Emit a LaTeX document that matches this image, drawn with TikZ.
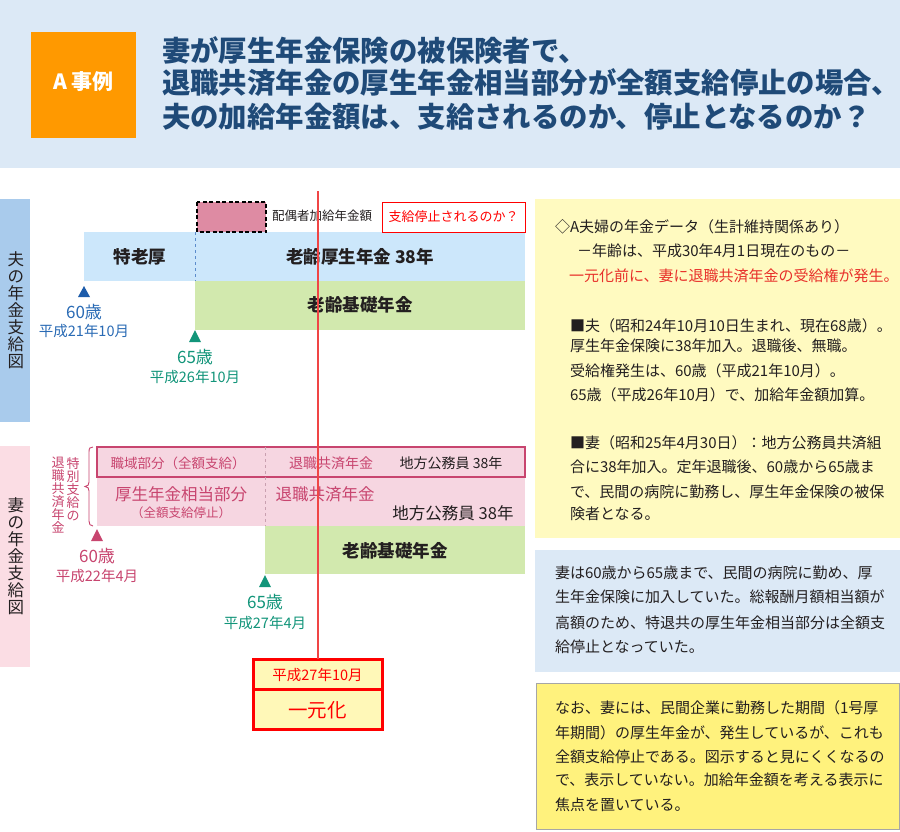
\documentclass[tikz,border=0pt]{standalone}
\usepackage{fontspec}
\setmainfont{Noto Sans CJK JP}
\newcommand\tightls{\lineskiplimit=-20pt\relax}
\definecolor{hdrbg}{HTML}{DCE9F6}
\definecolor{orangec}{HTML}{FF9900}
\definecolor{navy}{HTML}{1F4A78}
\definecolor{barblue}{HTML}{A9CBEC}
\definecolor{barpink}{HTML}{FBDDE4}
\definecolor{kakyu}{HTML}{DE8BA3}
\definecolor{bandblue}{HTML}{CCE7FB}
\definecolor{bandgreen}{HTML}{D2E9AE}
\definecolor{bandpink}{HTML}{F6D6E1}
\definecolor{pinkt}{HTML}{C8456F}
\definecolor{bluet}{HTML}{2A6BB5}
\definecolor{bluetri}{HTML}{1D5CAA}
\definecolor{greent}{HTML}{12957A}
\definecolor{redl}{HTML}{F04545}
\definecolor{redt}{HTML}{E8302A}
\definecolor{boxred}{HTML}{FF0000}
\definecolor{ylwbox}{HTML}{FFF8B8}
\definecolor{ylw1}{HTML}{FFFAC0}
\definecolor{blu2}{HTML}{DCE9F6}
\definecolor{ylw2}{HTML}{FFF27D}
\definecolor{darkt}{HTML}{231F20}
\definecolor{dashblue}{HTML}{5B8CCC}
\definecolor{dashpink}{HTML}{C9A0B0}
\tikzset{
  titlef/.style={font=\fontsize{28.4}{30}\selectfont\bfseries, text=navy, anchor=west},
  bodyf/.style={font=\fontsize{15}{17}\selectfont, text=darkt, anchor=west},
  vtextf/.style={align=center, font=\fontsize{16.5}{17}\selectfont\tightls, text=darkt},
  bandtxt/.style={font=\fontsize{17.5}{19}\selectfont\bfseries, text=darkt},
}
\begin{document}
\begin{tikzpicture}[x=1pt,y=-1pt, every node/.style={inner sep=0pt, outer sep=0pt}]
\useasboundingbox (0,0) rectangle (900,831);
\fill[white] (0,0) rectangle (900,831);

% ---------------- header
\fill[hdrbg] (0,0) rectangle (900,168);
\node[fill=orangec, minimum width=105, minimum height=106, anchor=north west] (tag) at (31,32) {};
\node[font=\fontsize{21}{22}\selectfont\bfseries, text=white] (tagt) at (83.5,82) {A 事例};
\node[titlef] (t1) at (162,50) {妻が厚生年金保険の被保険者で、};
\node[titlef] (t2) at (162,83) {退職共済年金の厚生年金相当部分が全額支給停止の場合、};
\node[titlef] (t3) at (162,117) {夫の加給年金額は、支給されるのか、停止となるのか？};

% ---------------- husband chart
\fill[barblue] (0,199) rectangle (30,422);
\node[vtextf] (hlab) at (16,310) {夫\\の\\年\\金\\支\\給\\図};

\fill[bandblue] (84,232) rectangle (525,281);
\fill[bandgreen] (195,281) rectangle (525,330);
\draw[dashblue, dashed, line width=0.8] (195,232) -- (195,281);
\fill[kakyu] (197,202) rectangle (266,232);
\draw[black, line width=2, dash pattern=on 4 off 2.5] (197,202) rectangle (266,232);
\node[font=\fontsize{12.5}{14}\selectfont, text=darkt, anchor=west] (kakyut) at (272,216) {配偶者加給年金額};
\node[draw=boxred, line width=1, fill=white, minimum width=143, minimum height=30, anchor=north west] (qbox) at (382,202) {};
\node[font=\fontsize{13}{14}\selectfont, text=boxred] (qt) at (qbox.center) {支給停止されるのか？};

\node[bandtxt] (tokro) at (140,257) {特老厚};
\node[bandtxt] (rokou) at (360,257) {老齢厚生年金 38年};
\node[bandtxt] (kiso1) at (360,305) {老齢基礎年金};

\fill[bluetri] (78,297) -- (90,297) -- (84,286) -- cycle;
\node[font=\fontsize{17}{18}\selectfont, text=bluet] (h60) at (84,312) {60歳};
\node[font=\fontsize{14.5}{16}\selectfont, text=bluet] (h60d) at (84,331) {平成21年10月};
\fill[greent] (189,342) -- (201,342) -- (195,330) -- cycle;
\node[font=\fontsize{17}{18}\selectfont, text=greent] (h65) at (195,357) {65歳};
\node[font=\fontsize{14.5}{16}\selectfont, text=greent] (h65d) at (195,377) {平成26年10月};

% ---------------- wife chart
\fill[barpink] (0,446) rectangle (30,667);
\node[vtextf] (wlab) at (16,556) {妻\\の\\年\\金\\支\\給\\図};

\fill[bandpink] (97,447) rectangle (525,526);
\draw[pinkt, line width=1.2] (97,447) rectangle (525,477);
\draw[dashpink, dashed, line width=0.8] (265,447) -- (265,526);
\fill[bandgreen] (265,526) rectangle (525,574);

\draw[pinkt, line width=0.9] (93,447) .. controls (90,447) and (89,448) .. (89,452) -- (89,482) .. controls (89,485) and (88,486) .. (85,486.5) .. controls (88,487) and (89,488) .. (89,491) -- (89,521) .. controls (89,524) and (90,526) .. (93,526);
\node[align=center, font=\fontsize{13}{13}\selectfont\tightls, text=pinkt] (tok1) at (73,489) {特\\別\\支\\給\\の};
\node[align=center, font=\fontsize{13}{13}\selectfont\tightls, text=pinkt] (tok2) at (58,495.5) {退\\職\\共\\済\\年\\金};

\node[font=\fontsize{13.5}{15}\selectfont, text=pinkt] (shoku) at (178,463) {職域部分（全額支給）};
\node[font=\fontsize{14}{15}\selectfont, text=pinkt] (taiu) at (331,463) {退職共済年金};
\node[font=\fontsize{14}{15}\selectfont, text=darkt] (chiu) at (451,463) {地方公務員 38年};
\node[font=\fontsize{16.5}{18}\selectfont, text=pinkt] (kose) at (181,494) {厚生年金相当部分};
\node[font=\fontsize{12.5}{14}\selectfont, text=pinkt] (teishi) at (181,513) {（全額支給停止）};
\node[font=\fontsize{16.5}{18}\selectfont, text=pinkt] (taid) at (325,494) {退職共済年金};
\node[font=\fontsize{16.5}{18}\selectfont, text=darkt] (chid) at (453,513) {地方公務員 38年};
\node[bandtxt] (kiso2) at (395,551) {老齢基礎年金};

\fill[pinkt] (91,541) -- (103,541) -- (97,529) -- cycle;
\node[font=\fontsize{17}{18}\selectfont, text=pinkt] (w60) at (97,556) {60歳};
\node[font=\fontsize{14.5}{16}\selectfont, text=pinkt] (w60d) at (97,576) {平成22年4月};
\fill[greent] (259,587) -- (271,587) -- (265,575) -- cycle;
\node[font=\fontsize{17}{18}\selectfont, text=greent] (w65) at (265,602) {65歳};
\node[font=\fontsize{14.5}{16}\selectfont, text=greent] (w65d) at (265,623) {平成27年4月};

% ---------------- unification box
\node[draw=boxred, line width=3, fill=ylwbox, minimum width=129, minimum height=70, anchor=north west] (ichi) at (253,659) {};
\draw[boxred, line width=3] (253,689) -- (382,689);
\node[font=\fontsize{14.5}{16}\selectfont, text=boxred] (ichid) at (317.5,675) {平成27年10月};
\node[font=\fontsize{19.5}{21}\selectfont, text=boxred] (ichit) at (317.5,710) {一元化};
\coordinate (rtop) at (317.5,191);
\draw[draw=redl, line width=2] (rtop) -- (ichi.north);

% ---------------- right boxes
\fill[ylw1] (535,199) rectangle (900,538);
\node[bodyf] (r1) at (555,227) {◇A夫婦の年金データ（生計維持関係あり）};
\node[bodyf] (r2) at (577,251) {－年齢は、平成30年4月1日現在のもの－};
\node[bodyf, text=redt] (r3) at (569,276) {一元化前に、妻に退職共済年金の受給権が発生。};
\node[bodyf] (r4) at (570,326) {■夫（昭和24年10月10日生まれ、現在68歳）。};
\node[bodyf] (r5) at (570,346) {厚生年金保険に38年加入。退職後、無職。};
\node[bodyf] (r6) at (570,371) {受給権発生は、60歳（平成21年10月）。};
\node[bodyf] (r7) at (570,395) {65歳（平成26年10月）で、加給年金額加算。};
\node[bodyf] (r8) at (570,443) {■妻（昭和25年4月30日）：地方公務員共済組};
\node[bodyf] (r9) at (570,467) {合に38年加入。定年退職後、60歳から65歳ま};
\node[bodyf] (r10) at (570,492) {で、民間の病院に勤務し、厚生年金保険の被保};
\node[bodyf] (r11) at (570,514) {険者となる。};

\fill[blu2] (535,550) rectangle (900,672);
\node[bodyf] (b1) at (555,573) {妻は60歳から65歳まで、民間の病院に勤め、厚};
\node[bodyf] (b2) at (555,597) {生年金保険に加入していた。総報酬月額相当額が};
\node[bodyf] (b3) at (555,623) {高額のため、特退共の厚生年金相当部分は全額支};
\node[bodyf] (b4) at (555,647) {給停止となっていた。};

\draw[fill=ylw2, draw=gray!70, line width=1] (536,683) rectangle (899,829);
\node[bodyf] (y1) at (555,708) {なお、妻には、民間企業に勤務した期間（1号厚};
\node[bodyf] (y2) at (555,733) {年期間）の厚生年金が、発生しているが、これも};
\node[bodyf] (y3) at (555,757) {全額支給停止である。図示すると見にくくなるの};
\node[bodyf] (y4) at (555,780) {で、表示していない。加給年金額を考える表示に};
\node[bodyf] (y5) at (555,805) {焦点を置いている。};
\end{tikzpicture}
\end{document}
